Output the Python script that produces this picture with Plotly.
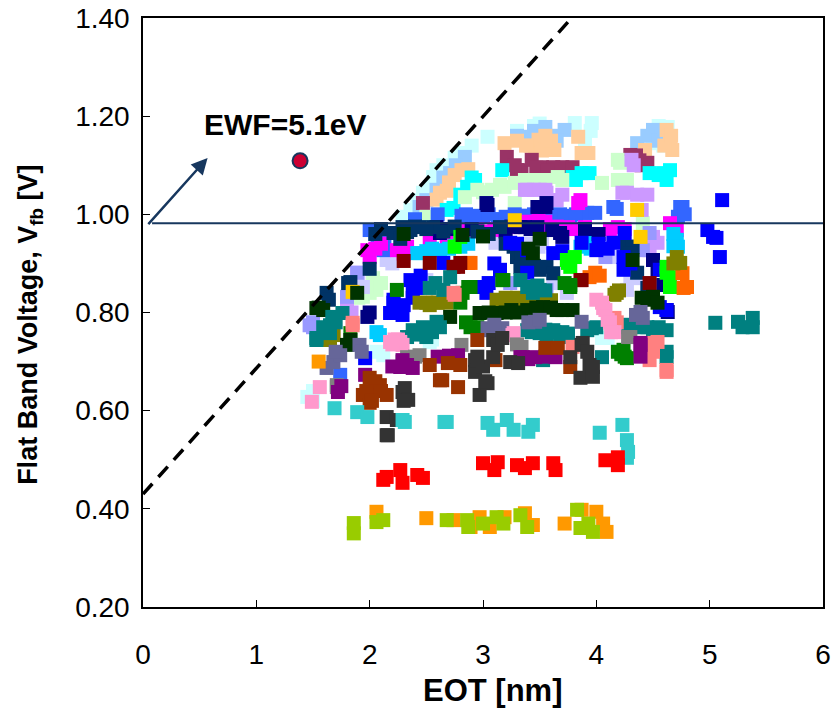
import plotly.graph_objects as go

# ---- Reference lines / annotations ----
ewf_line_x = [0.0, 3.86]
ewf_line_y = [0.43, 1.42]
level_x = [0.08, 6.0]
level_y = [0.982, 0.982]
ewf_point_x = [1.386]
ewf_point_y = [1.109]
arrow_tail = (0.035, 0.977)
arrow_head = (0.57, 1.115)

x_ticks = [0, 1, 2, 3, 4, 5, 6]
y_ticks = [0.20, 0.40, 0.60, 0.80, 1.00, 1.20, 1.40]

# ---- Measured samples (EOT [nm], Vfb [V]) ----
lightcyan_x = [2.29, 2.36, 2.42, 2.47, 2.53, 2.56, 2.59, 2.65, 2.81, 3.04, 3.3, 3.81, 3.9, 3.96, 4.5, 4.59, 4.63, 1.45, 1.5, 2.06, 2.12, 2.53, 4.05, 4.1,
               3.45, 3.5, 3.95, 2.9, 2.75, 4.55, 1.5, 2.55]
lightcyan_y = [0.995, 1.009, 1.029, 1.044, 1.056, 1.076, 1.09, 1.10, 1.125, 1.158, 1.17, 1.186, 1.152, 1.186, 1.145, 1.14, 1.178, 0.628, 0.64, 0.72, 0.713, 0.74, 0.748, 0.748,
               1.18, 1.185, 1.17, 1.14, 1.115, 1.18, 0.62, 0.745]

lightsky_x = [2.44, 2.5, 2.59, 2.68, 2.71, 2.84, 3.37, 3.45, 3.55, 3.72, 4.36, 4.5, 4.45,
              3.3, 3.6, 3.65, 2.76, 2.65, 4.55, 4.6]
lightsky_y = [1.015, 1.029, 1.05, 1.064, 1.084, 1.117, 1.158, 1.17, 1.178, 1.172, 1.145, 1.172, 1.16,
              1.16, 1.16, 1.15, 1.10, 1.075, 1.15, 1.17]

peach_x = [2.59, 2.62, 2.68, 2.81, 2.87, 3.19, 3.42, 3.46, 3.49, 3.57, 3.63, 3.84, 3.87, 3.93, 4.43, 4.62, 4.65, 4.67,
           3.3, 3.38, 3.52, 3.6, 3.55, 2.75, 2.7, 4.6, 4.66]
peach_y = [1.03, 1.044, 1.048, 1.09, 1.092, 1.145, 1.14, 1.137, 1.152, 1.145, 1.131, 1.158, 1.125, 1.125, 1.131, 1.172, 1.15, 1.131,
           1.15, 1.14, 1.13, 1.15, 1.16, 1.08, 1.065, 1.14, 1.16]

maroon_x = [2.47, 3.21, 3.3, 3.34, 3.43, 3.52, 3.62, 3.7, 3.79, 4.3, 4.38, 4.45,
            3.28, 3.47, 3.57, 4.4, 4.35]
maroon_y = [1.023, 1.117, 1.09, 1.09, 1.111, 1.096, 1.096, 1.096, 1.096, 1.121, 1.11, 1.105,
            1.10, 1.095, 1.09, 1.10, 1.12]

cyan_x = [2.68, 2.74, 2.86, 2.93, 3.17, 3.79, 3.87, 3.94, 4.47, 4.59, 4.65, 4.62,
          2.8, 2.9, 3.82, 4.55]
cyan_y = [1.009, 1.013, 1.056, 1.07, 1.09, 1.076, 1.084, 1.084, 1.084, 1.084, 1.09, 1.07,
          1.04, 1.075, 1.07, 1.08]

honeydew_x = [2.5, 2.84, 3.08, 3.19, 3.28, 3.37, 3.55, 3.66, 4.05, 4.19, 4.19, 4.21, 4.27, 3.28, 1.94, 2.0, 2.06, 2.03, 4.41,
              2.95, 3.0, 3.45, 3.7, 3.15, 1.9, 2.1, 1.97]
honeydew_y = [0.995, 1.035, 1.05, 1.056, 1.064, 1.07, 1.07, 1.076, 1.064, 1.111, 1.07, 1.105, 1.07, 1.023, 0.832, 0.84, 0.846, 0.87, 0.982,
              1.05, 1.045, 1.07, 1.07, 1.06, 0.83, 0.86, 0.85]

lavender_x = [3.37, 3.39, 3.55, 3.56, 3.63, 3.65, 4.23, 4.27, 4.31, 4.36, 4.4, 4.5, 4.54, 4.47, 1.8, 1.84, 1.89,
              3.45, 3.5, 3.7, 4.45, 4.33]
lavender_y = [1.05, 1.05, 1.05, 1.044, 1.029, 1.029, 1.044, 1.044, 1.111, 1.04, 1.009, 0.954, 0.942, 0.927, 0.815, 0.80, 0.881,
              1.05, 1.05, 1.04, 1.04, 1.10]

lavblue_x = [2.15, 2.2, 3.11, 3.49, 3.52, 4.14, 4.3, 4.45, 1.94, 1.9, 3.62, 3.74, 4.27, 2.5, 3.3, 3.4, 4.35]
lavblue_y = [0.907, 0.9, 0.942, 0.934, 0.942, 0.913, 0.872, 0.86, 0.852, 0.86, 0.86, 0.84, 0.846, 0.866, 0.94, 0.94, 0.87]

periwinkle_x = [1.47, 1.5, 1.5, 1.8, 1.89, 3.24, 3.56, 4.08, 4.41, 4.47]
periwinkle_y = [0.774, 0.78, 0.77, 0.832, 0.881, 0.86, 0.846, 0.913, 0.927, 0.962]

royal_x = [2.0, 2.07, 2.12, 2.05, 2.81, 2.93, 3.13, 3.15, 3.37, 3.39, 3.53, 3.61, 3.77, 3.87, 3.92, 3.99, 4.15, 4.18, 4.74, 4.76, 4.72, 1.74, 2.6, 2.4,
           2.85, 3.0, 3.05, 3.2, 3.28, 3.45, 3.68, 3.72, 3.82, 2.13, 2.08, 4.78]
royal_y = [0.968, 0.942, 0.927, 0.96, 0.997, 0.997, 0.99, 0.99, 0.997, 0.997, 0.997, 0.997, 0.997, 1.003, 1.003, 1.003, 1.015, 1.011, 1.015, 1.015, 0.995, 0.673, 1.0, 0.99,
           1.0, 0.995, 1.0, 0.995, 1.0, 1.0, 1.0, 0.995, 1.0, 0.95, 0.965, 1.0]

magenta_x = [1.98, 2.0, 2.24, 2.33, 2.53, 2.68, 2.87, 3.17, 3.27, 3.49, 3.59, 3.75, 3.84, 3.86, 3.9, 4.19, 4.65, 4.71,
             2.05, 2.1, 2.3, 2.95, 3.0, 3.1, 3.4, 3.55, 3.65, 3.82, 4.12, 4.25]
magenta_y = [0.927, 0.913, 0.927, 0.934, 0.942, 0.954, 0.968, 0.968, 0.974, 0.99, 0.974, 0.974, 1.023, 1.029, 0.974, 0.974, 0.982, 0.968,
             0.93, 0.94, 0.92, 0.97, 0.965, 0.97, 0.985, 0.985, 0.975, 0.97, 0.97, 0.97]

deepsky_x = [2.42, 2.44, 2.62, 2.8, 2.81, 2.87, 3.86, 3.97, 4.68, 4.71, 4.72, 2.09, 2.06,
             2.5, 2.55, 2.7, 2.75, 3.9, 3.95, 4.68]
deepsky_y = [0.921, 0.921, 0.927, 0.934, 0.942, 0.94, 0.934, 0.948, 0.96, 0.948, 0.934, 0.754, 0.76,
             0.925, 0.93, 0.93, 0.935, 0.94, 0.93, 0.935]

navy_x = [3.03, 3.04, 3.48, 3.55, 3.56, 1.98, 2.0, 2.59, 2.62, 3.33, 3.37, 3.48, 3.61, 3.68, 3.7, 4.5, 4.54, 4.59, 4.62, 4.63,
          2.7, 2.9, 3.2, 3.25, 3.42, 3.9, 4.02]
navy_y = [1.023, 1.019, 1.015, 1.015, 1.023, 0.791, 0.80, 0.974, 0.962, 0.974, 0.974, 0.974, 0.968, 0.962, 0.954, 0.907, 0.887, 0.856, 0.805, 0.801,
          0.97, 0.97, 0.965, 0.975, 0.97, 0.97, 0.96]

darknavy_x = [1.62, 1.64, 1.81, 1.83, 2.0, 2.21, 2.27, 2.29, 2.33, 2.36, 2.44, 2.56, 3.15, 3.27, 3.3, 3.33, 3.34, 3.5, 3.56, 4.27, 4.32, 4.36, 4.45,
              2.4, 2.5, 2.65, 2.75, 2.95, 3.05, 3.2, 3.4, 3.45, 3.62, 4.3, 2.05, 2.1]
darknavy_y = [0.84, 0.826, 0.86, 0.862, 0.889, 0.962, 0.95, 0.974, 0.964, 0.968, 0.974, 0.974, 0.974, 0.934, 0.913, 0.893, 0.921, 0.887, 0.893, 0.934, 0.934, 0.881, 0.85,
              0.975, 0.97, 0.965, 0.975, 0.965, 0.96, 0.94, 0.91, 0.895, 0.88, 0.92, 0.96, 0.97]

blue_x = [2.36, 2.38, 2.21, 2.18, 2.27, 2.29, 2.21, 2.38, 2.97, 3.03, 2.65, 3.15, 3.24, 3.39, 3.39, 3.62, 3.87, 4.0, 4.15, 4.24, 4.24, 4.25, 4.56, 4.56, 4.62, 4.98, 5.03, 5.06, 5.09, 5.11, 1.96,
          2.42, 2.45, 3.1, 3.3, 3.7, 4.02, 4.1, 4.3, 3.05, 2.3]
blue_y = [0.866, 0.84, 0.82, 0.799, 0.799, 0.795, 0.826, 0.83, 0.852, 0.84, 0.901, 0.887, 0.942, 0.881, 0.927, 0.921, 0.942, 0.927, 0.942, 0.913, 0.887, 0.962, 0.887, 0.811, 0.805, 0.968, 0.954, 0.952, 0.913, 1.029, 0.707,
          0.85, 0.875, 0.90, 0.94, 0.925, 0.94, 0.93, 0.90, 0.86, 0.815]

lime_x = [2.75, 2.8, 3.74, 3.75, 3.77, 3.81, 4.62, 4.62, 4.65, 4.65]
lime_y = [0.934, 0.954, 0.907, 0.901, 0.893, 0.913, 0.893, 0.881, 0.872, 0.852]

orangered_x = [2.87, 2.89, 3.94, 3.99, 4.03, 4.76, 4.77, 4.8]
orangered_y = [0.901, 0.901, 0.872, 0.881, 0.875, 0.88, 0.85, 0.852]

darkred_x = [2.53, 2.74, 2.78, 2.8, 3.86, 3.87, 4.47, 2.3]
darkred_y = [0.901, 0.893, 0.893, 0.901, 0.866, 0.866, 0.86, 0.905]

gold_x = [4.39, 4.36, 1.85, 3.28]
gold_y = [0.954, 1.009, 0.842, 0.988]

olive_x = [1.65, 1.68, 1.68, 2.44, 2.53, 2.56, 2.68, 3.12, 3.13, 3.24, 3.34, 3.41, 3.52, 3.53, 4.16, 4.18, 4.71, 4.74,
           2.5, 2.6, 3.2, 3.3, 3.45, 3.6, 4.2, 4.68]
olive_y = [0.744, 0.758, 0.754, 0.82, 0.815, 0.82, 0.82, 0.826, 0.821, 0.826, 0.826, 0.826, 0.826, 0.826, 0.836, 0.84, 0.913, 0.901,
           0.82, 0.82, 0.83, 0.83, 0.83, 0.825, 0.845, 0.90]

green_x = [1.83, 2.24, 2.8, 2.87, 2.89, 2.89, 3.17, 3.18, 3.77, 3.77, 4.19, 4.24, 4.25, 4.27,
           2.95, 2.85, 4.22, 3.72, 2.82]
green_y = [0.758, 0.846, 0.82, 0.852, 0.852, 0.77, 0.866, 0.866, 0.852, 0.856, 0.72, 0.724, 0.71, 0.707,
           0.77, 0.78, 0.715, 0.86, 0.84]

darkgreen_x = [1.53, 1.59, 1.8, 1.83, 1.89, 2.71, 2.97, 3.12, 3.39, 3.44, 3.53, 3.65, 3.79, 4.32, 4.45, 4.5, 4.54, 2.82, 2.3, 3.0, 3.5,
               3.05, 3.2, 3.25, 3.3, 3.47, 3.6, 3.7, 4.4, 1.55, 3.4]
darkgreen_y = [0.809, 0.805, 0.734, 0.744, 0.84, 0.791, 0.799, 0.799, 0.805, 0.921, 0.811, 0.805, 0.805, 0.907, 0.826, 0.832, 0.82, 0.958, 0.96, 0.955, 0.95,
               0.80, 0.80, 0.805, 0.80, 0.81, 0.81, 0.805, 0.83, 0.81, 0.93]

teal_x = [1.53, 1.53, 1.59, 1.65, 1.65, 1.67, 1.76, 2.33, 2.38, 2.42, 2.47, 2.5, 2.53, 2.53, 2.59, 2.65, 2.71, 3.33, 3.39, 3.39, 3.43, 3.44, 3.5, 3.5, 3.53, 3.56, 3.62, 3.63, 3.68, 3.92, 3.96, 4.0, 4.05, 4.3, 4.39, 4.5, 4.62, 4.62, 4.62, 5.05, 5.25, 5.29, 5.38, 5.38,
          2.45, 2.55, 2.62, 3.45, 3.55, 3.7, 3.75, 4.2, 4.25, 4.45, 4.55, 3.48, 3.55, 1.6, 1.7, 2.58]
teal_y = [0.744, 0.748, 0.77, 0.758, 0.774, 0.791, 0.799, 0.75, 0.764, 0.76, 0.77, 0.75, 0.768, 0.85, 0.781, 0.846, 0.872, 0.866, 0.852, 0.764, 0.76, 0.84, 0.846, 0.758, 0.703, 0.75, 0.764, 0.76, 0.75, 0.764, 0.768, 0.77, 0.709, 0.77, 0.77, 0.764, 0.764, 0.709, 0.72, 0.779, 0.781, 0.77, 0.789, 0.77,
          0.755, 0.76, 0.77, 0.77, 0.765, 0.76, 0.757, 0.77, 0.775, 0.77, 0.77, 0.855, 0.845, 0.76, 0.78, 0.86]

slate_x = [1.62, 1.68, 1.74, 1.91, 1.93, 3.04, 3.06, 3.17, 3.46, 3.87, 4.39, 4.41, 1.7, 3.1, 3.4, 3.5, 4.35]
slate_y = [0.687, 0.699, 0.713, 0.734, 0.72, 0.768, 0.764, 0.768, 0.781, 0.781, 0.801, 0.789, 0.72, 0.775, 0.78, 0.785, 0.795]

salmon_x = [1.85, 1.85, 2.74, 2.75, 3.79, 4.16, 4.18, 4.45, 4.47, 4.54, 4.62, 4.62, 4.5]
salmon_y = [0.774, 0.779, 0.84, 0.836, 0.73, 0.789, 0.78, 0.738, 0.703, 0.74, 0.679, 0.683, 0.72]

pink_x = [1.49, 1.56, 2.18, 2.22, 2.27, 2.29, 3.26, 3.27, 4.0, 4.06, 4.08, 4.1, 4.16, 2.2, 2.25, 4.05, 4.12, 4.13]
pink_y = [0.618, 0.648, 0.74, 0.745, 0.74, 0.734, 0.754, 0.758, 0.826, 0.809, 0.805, 0.785, 0.76, 0.735, 0.745, 0.82, 0.78, 0.76]

gray_x = [1.71, 1.71, 2.29, 2.33, 2.44, 2.81, 3.34, 4.28, 4.3, 2.36, 2.4, 3.3]
gray_y = [0.652, 0.648, 0.70, 0.709, 0.713, 0.734, 0.73, 0.75, 0.75, 0.705, 0.71, 0.735]

purple_x = [1.72, 1.96, 2.27, 2.29, 2.38, 2.78, 3.33, 3.35, 3.46, 3.64, 4.39, 4.39, 4.39, 2.2, 2.33, 2.6, 2.7, 3.4, 3.55, 1.75]
purple_y = [0.638, 0.673, 0.689, 0.703, 0.687, 0.713, 0.709, 0.709, 0.709, 0.709, 0.734, 0.71, 0.738, 0.69, 0.693, 0.71, 0.712, 0.705, 0.71, 0.65]

brown_x = [1.94, 2.0, 2.0, 2.06, 2.09, 2.15, 2.53, 2.62, 2.64, 2.69, 2.78, 2.8, 2.95, 3.11, 3.55, 3.66, 3.77, 2.05, 2.1, 1.97, 2.02]
brown_y = [0.632, 0.667, 0.616, 0.646, 0.652, 0.632, 0.693, 0.662, 0.662, 0.697, 0.648, 0.693, 0.744, 0.703, 0.728, 0.728, 0.689, 0.66, 0.64, 0.64, 0.62]

darkgray_x = [2.15, 2.15, 2.16, 2.24, 2.29, 2.31, 2.34, 2.93, 2.93, 2.97, 3.04, 3.09, 3.09, 3.13, 3.17, 3.24, 3.31, 3.77, 3.86, 3.87, 3.88, 3.92, 3.94, 3.97, 3.97,
              2.3, 3.02, 3.0, 2.95]
darkgray_y = [0.587, 0.55, 0.55, 0.581, 0.638, 0.646, 0.622, 0.679, 0.703, 0.632, 0.656, 0.709, 0.744, 0.734, 0.748, 0.699, 0.697, 0.709, 0.667, 0.734, 0.738, 0.72, 0.693, 0.669, 0.689,
              0.62, 0.66, 0.69, 0.71]

turquoise_x = [1.69, 1.89, 1.98, 2.29, 2.31, 2.66, 2.68, 3.04, 3.09, 3.21, 3.27, 3.4, 3.44, 4.03, 4.23, 4.27, 4.28, 4.27]
turquoise_y = [0.605, 0.597, 0.587, 0.581, 0.577, 0.577, 0.577, 0.575, 0.561, 0.581, 0.561, 0.557, 0.571, 0.555, 0.571, 0.54, 0.516, 0.504]

red_x = [2.12, 2.15, 2.27, 2.29, 2.42, 2.47, 3.0, 3.1, 3.13, 3.3, 3.37, 3.44, 3.62, 3.64, 4.08, 4.19, 4.19]
red_y = [0.459, 0.465, 0.479, 0.453, 0.469, 0.463, 0.493, 0.479, 0.495, 0.489, 0.483, 0.493, 0.493, 0.479, 0.499, 0.505, 0.489]

orange_x = [1.55, 2.06, 2.5, 2.74, 2.89, 2.97, 3.06, 3.19, 3.37, 3.44, 3.72, 3.87, 4.0, 4.06, 4.09]
orange_y = [0.70, 0.394, 0.381, 0.377, 0.363, 0.383, 0.363, 0.383, 0.391, 0.367, 0.37, 0.398, 0.394, 0.37, 0.353]

yellowgreen_x = [1.86, 1.86, 2.06, 2.12, 2.68, 2.86, 2.87, 3.0, 3.12, 3.18, 3.33, 3.39, 3.83, 3.86, 3.93, 3.97]
yellowgreen_y = [0.371, 0.35, 0.373, 0.377, 0.377, 0.377, 0.363, 0.37, 0.383, 0.37, 0.387, 0.363, 0.398, 0.361, 0.37, 0.353]

# draw order: first entries sit underneath
series = [
    (lightcyan_x, lightcyan_y, "#ccffff"),
    (lightsky_x, lightsky_y, "#99ccff"),
    (peach_x, peach_y, "#ffcc99"),
    (maroon_x, maroon_y, "#993366"),
    (cyan_x, cyan_y, "#00ffff"),
    (honeydew_x, honeydew_y, "#ccffcc"),
    (lavender_x, lavender_y, "#cc99ff"),
    (lavblue_x, lavblue_y, "#ccccff"),
    (periwinkle_x, periwinkle_y, "#9999ff"),
    (royal_x, royal_y, "#3366ff"),
    (magenta_x, magenta_y, "#ff00ff"),
    (deepsky_x, deepsky_y, "#00ccff"),
    (navy_x, navy_y, "#000080"),
    (darknavy_x, darknavy_y, "#003366"),
    (blue_x, blue_y, "#0000ff"),
    (lime_x, lime_y, "#00ff00"),
    (orangered_x, orangered_y, "#ff6600"),
    (darkred_x, darkred_y, "#800000"),
    (gold_x, gold_y, "#ffcc00"),
    (olive_x, olive_y, "#808000"),
    (green_x, green_y, "#008000"),
    (darkgreen_x, darkgreen_y, "#003300"),
    (teal_x, teal_y, "#008080"),
    (slate_x, slate_y, "#666699"),
    (salmon_x, salmon_y, "#ff8080"),
    (pink_x, pink_y, "#ff99cc"),
    (gray_x, gray_y, "#808080"),
    (purple_x, purple_y, "#800080"),
    (brown_x, brown_y, "#993300"),
    (darkgray_x, darkgray_y, "#333333"),
    (turquoise_x, turquoise_y, "#33cccc"),
    (red_x, red_y, "#ff0000"),
    (orange_x, orange_y, "#ff9900"),
    (yellowgreen_x, yellowgreen_y, "#99cc00"),
]

FONT = "Liberation Sans, Arial, sans-serif"
NAVY = "#17375e"

fig = go.Figure()

for xs, ys, col in series:
    fig.add_trace(go.Scatter(
        x=xs, y=ys, mode="markers",
        marker=dict(symbol="square", size=14, color=col, line=dict(width=0)),
        showlegend=False, hoverinfo="x+y",
    ))

# limiting line for EWF = 5.1 eV
fig.add_trace(go.Scatter(
    x=ewf_line_x, y=ewf_line_y, mode="lines",
    line=dict(color="black", width=3.5, dash="14px,9px"),
    showlegend=False, hoverinfo="skip",
))

# horizontal level line
fig.add_trace(go.Scatter(
    x=level_x, y=level_y, mode="lines",
    line=dict(color=NAVY, width=2),
    showlegend=False, hoverinfo="skip",
))

# EWF marker
fig.add_trace(go.Scatter(
    x=ewf_point_x, y=ewf_point_y, mode="markers",
    marker=dict(symbol="circle", size=15, color="#cc0033", line=dict(color=NAVY, width=2)),
    showlegend=False, hoverinfo="skip",
))

fig.add_annotation(
    x=arrow_head[0], y=arrow_head[1], ax=arrow_tail[0], ay=arrow_tail[1],
    xref="x", yref="y", axref="x", ayref="y",
    showarrow=True, arrowhead=2, arrowsize=1.3, arrowwidth=2.5, arrowcolor=NAVY,
    text="",
)

fig.add_annotation(
    x=0.52, y=1.184, xref="x", yref="y", xanchor="left", yanchor="middle",
    text="<b>EWF=5.1eV</b>", showarrow=False,
    font=dict(family=FONT, size=30, color="black"),
)

# x-axis title, placed slightly right of the plot centre
fig.add_annotation(
    x=0.515, y=0, xref="paper", yref="paper", xanchor="center", yanchor="top",
    yshift=-64, text="<b>EOT [nm]</b>", showarrow=False,
    font=dict(family=FONT, size=31, color="black"),
)

# y-axis title, rotated, sitting a little below the plot centre
fig.add_annotation(
    x=0, y=0.479, xref="paper", yref="paper", xanchor="center", yanchor="middle",
    xshift=-113, textangle=-90,
    text="<b>Flat Band Voltage, V<sub>fb</sub> [V]</b>", showarrow=False,
    font=dict(family=FONT, size=27, color="black"),
)

fig.update_layout(
    width=836, height=710,
    margin=dict(l=143, r=13, t=18, b=103),
    paper_bgcolor="white", plot_bgcolor="white",
    font=dict(family=FONT, color="black"),
)

fig.update_xaxes(
    range=[0, 6], tickvals=x_ticks, ticktext=[str(v) for v in x_ticks],
    showgrid=False, zeroline=False, automargin=False,
    showline=True, linecolor="black", linewidth=1.5, mirror=True,
    ticks="inside", ticklen=7, tickwidth=1, tickcolor="black",
    tickfont=dict(family=FONT, size=28),
    ticklabelstandoff=22,
)

fig.update_yaxes(
    range=[0.2, 1.4], tickvals=y_ticks, ticktext=[f"{v:.2f}" for v in y_ticks],
    showgrid=False, zeroline=False, automargin=False,
    showline=True, linecolor="black", linewidth=1.5, mirror=True,
    ticks="inside", ticklen=7, tickwidth=1, tickcolor="black",
    tickfont=dict(family=FONT, size=28),
    ticklabelstandoff=6,
)

fig.write_html("out.html")
